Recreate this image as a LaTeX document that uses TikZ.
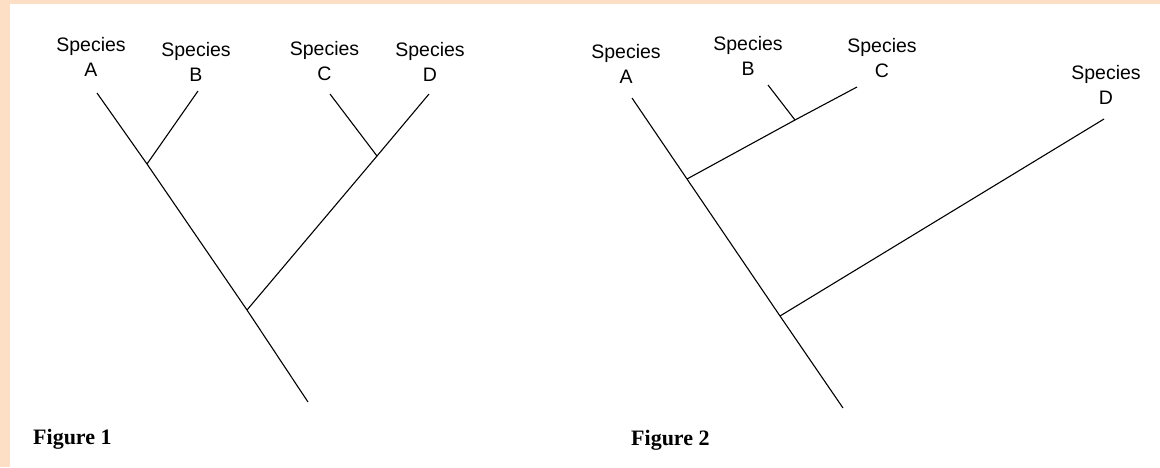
\documentclass[tikz,border=0pt]{standalone}
\usepackage{fontspec}
\setmainfont{Liberation Sans}
\newfontfamily\capfont{Liberation Serif}
\usetikzlibrary{calc}
\definecolor{peach}{RGB}{253,223,198}

\begin{document}
\begin{tikzpicture}[x=1pt, y=-1pt,
  species/.style={font=\fontsize{19.5}{25}\selectfont, align=center, inner sep=0, anchor=base},
  figcap/.style={font=\capfont\bfseries\fontsize{22}{26}\selectfont, inner sep=0, anchor=base west},
  branch/.style={black, line width=1.1pt, line join=round}]
\useasboundingbox (0,0) rectangle (1160,467);
\fill[peach] (0,0) rectangle (1160,467);
\fill[white] (10,4) rectangle (1160,467);

% Figure 1 (label y = baseline of the letter line)
\foreach \n/\x/\y in {A/91/76.5, B/196/81, C/324.5/80.5, D/430/81.5}
  \node[species] (one\n) at (\x,\y) {Species\\\n};
\coordinate (oneTA) at (97,93);
\coordinate (oneTB) at (198,91);
\coordinate (oneTC) at (330,94);
\coordinate (oneTD) at (429,94);
\coordinate (oneJAB) at (147,164);
\coordinate (oneJCD) at (377,156);
\coordinate (oneJR) at (247,310);
\coordinate (oneRoot) at (308,402);
\draw[branch] (oneTA) -- (oneJAB) -- (oneJR) -- (oneRoot);
\draw[branch] (oneTB) -- (oneJAB);
\draw[branch] (oneTC) -- (oneJCD);
\draw[branch] (oneTD) -- (oneJCD) -- (oneJR);
\node[figcap] (figone) at (33,444) {Figure 1};

% Figure 2
\foreach \n/\x/\y in {A/626/83, B/748/75.5, C/882/77, D/1106/104.5}
  \node[species] (two\n) at (\x,\y) {Species\\\n};
\coordinate (twoTA) at (632,98);
\coordinate (twoTB) at (768,85);
\coordinate (twoTC) at (857,87);
\coordinate (twoTD) at (1104,119);
\coordinate (twoJB) at (795,120);
\coordinate (twoJC) at (687,179);
\coordinate (twoJD) at (780,316);
\coordinate (twoRoot) at (843,408);
\draw[branch] (twoTA) -- (twoJC) -- (twoJD) -- (twoRoot);
\draw[branch] (twoTC) -- (twoJB) -- (twoJC);
\draw[branch] (twoTB) -- (twoJB);
\draw[branch] (twoTD) -- (twoJD);
\node[figcap] (figtwo) at (631,445) {Figure 2};
\end{tikzpicture}
\end{document}
